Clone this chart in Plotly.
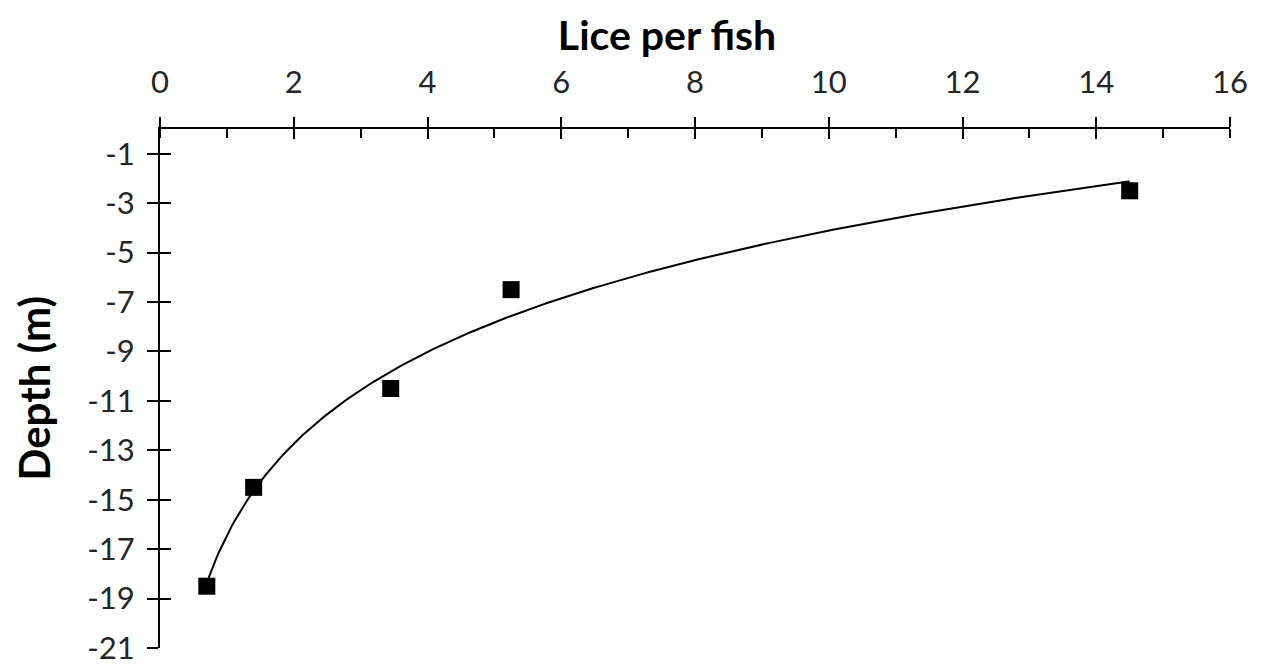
import numpy as np
import plotly.graph_objects as go

# data
lice = [0.7, 1.4, 3.45, 5.25, 14.5]
depth = [-18.5, -14.5, -10.5, -6.5, -2.5]
x_ticks = [0, 2, 4, 6, 8, 10, 12, 14, 16]
y_ticks = [-1, -3, -5, -7, -9, -11, -13, -15, -17, -19, -21]
y_tick_text = ["-1", "-3", "-5", "-7", "-9", "-11", "-13", "-15", "-17", "-19", "-21"]

# logarithmic trendline (least squares on ln x), as in the spreadsheet
a, b = np.polyfit(np.log(lice), depth, 1)
xf = np.linspace(min(lice), max(lice), 300)
yf = a * np.log(xf) + b

FONT = "Lato"
TICKCOL = "#262626"
fig = go.Figure()
fig.add_trace(go.Scatter(x=xf, y=yf, mode="lines", line=dict(color="black", width=2),
                         hoverinfo="skip", showlegend=False))
fig.add_trace(go.Scatter(x=lice, y=depth, mode="markers",
                         marker=dict(symbol="square", size=17, color="black"),
                         showlegend=False))
# invisible trace to anchor overlay axes (inside tick halves)
fig.add_trace(go.Scatter(x=[0], y=[0], xaxis="x2", yaxis="y2", mode="markers",
                         marker=dict(opacity=0), showlegend=False, hoverinfo="skip"))

fig.update_layout(
    width=1263, height=670,
    margin=dict(l=152, r=41, t=121, b=24),
    plot_bgcolor="white", paper_bgcolor="white",
    font=dict(family=FONT, color=TICKCOL, size=31),
    title=dict(text="<b>Lice per fish</b>", x=659 / 1263, y=1 - 28 / 670,
               xref="container", yref="container", xanchor="center", yanchor="middle",
               font=dict(family=FONT, size=41, color="black")),
    xaxis=dict(side="top", range=[0, 16], tickvals=x_ticks, showgrid=False, zeroline=False,
               showline=True, linecolor="black", linewidth=2,
               ticks="outside", ticklen=10, tickwidth=2, tickcolor="black",
               ticklabelstandoff=12,
               minor=dict(dtick=1, ticks="inside", ticklen=9, tickwidth=2, tickcolor="black"),
               tickfont=dict(family=FONT, size=31, color=TICKCOL)),
    yaxis=dict(range=[-21, 0], tickvals=y_ticks, ticktext=y_tick_text, showgrid=False,
               zeroline=False, showline=True, linecolor="black", linewidth=2,
               ticks="outside", ticklen=11, tickwidth=2, tickcolor="black",
               ticklabelstandoff=6,
               tickfont=dict(family=FONT, size=31, color=TICKCOL)),
    xaxis2=dict(overlaying="x", side="top", range=[0, 16], tickvals=x_ticks, showticklabels=False,
                showgrid=False, zeroline=False, ticks="inside", ticklen=10, tickwidth=2,
                tickcolor="black", showline=False, anchor="y2"),
    annotations=[
        dict(text="<b>Depth (m)</b>", xref="paper", yref="paper", x=0, xshift=-127,
             y=0.5, textangle=-90, xanchor="center", yanchor="middle",
             showarrow=False, font=dict(family=FONT, size=42, color="black")),
    ],
    yaxis2=dict(overlaying="y", range=[-21, 0], tickvals=y_ticks, showticklabels=False,
                showgrid=False, zeroline=False, ticks="inside", ticklen=11, tickwidth=2,
                tickcolor="black", showline=False, anchor="x2"),
)
fig.write_html("out.html")
